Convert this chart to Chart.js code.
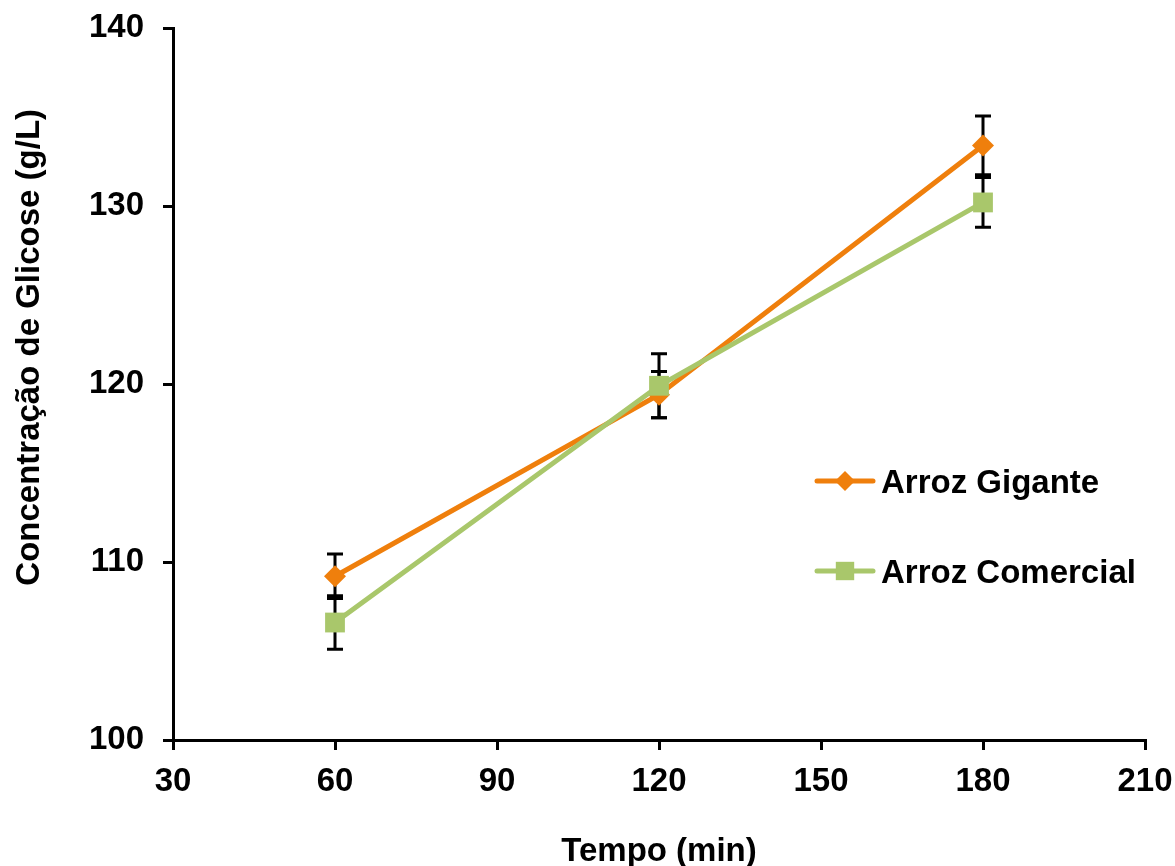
<!DOCTYPE html>
<html>
<head>
<meta charset="utf-8">
<script src="https://cdn.jsdelivr.net/npm/chart.js@4/dist/chart.umd.min.js"></script>
<style>
  html, body { margin: 0; padding: 0; background: #fff; }
  #wrap { position: relative; width: 1175px; height: 866px; }
</style>
</head>
<body>
<div id="wrap"><canvas id="chart" width="1175" height="866"></canvas></div>
<script>
// Glucose concentration over time
const tempos = [60, 120, 180];
const gigante = [109.2, 119.4, 133.4];
const giganteErr = [1.25, 1.3, 1.65];
const comercial = [106.6, 119.9, 130.2];
const comercialErr = [1.5, 1.8, 1.4];

const xTicks = [30, 60, 90, 120, 150, 180, 210];
const yTicks = [100, 110, 120, 130, 140];

const ORANGE = '#EF7F0C';
const GREEN = '#A9C76B';
const FONT = "'Liberation Sans', Arial, sans-serif";

const toPoints = (ys) => tempos.map((x, i) => ({ x, y: ys[i] }));

// Error bars, drawn behind the lines and markers
const errorBars = {
  id: 'errorBars',
  beforeDatasetsDraw(chart) {
    const { ctx, scales: { x, y } } = chart;
    ctx.save();
    ctx.strokeStyle = '#000';
    ctx.lineWidth = 3;
    chart.data.datasets.forEach(ds => {
      ds.data.forEach((p, i) => {
        const err = ds.errors[i];
        const px = x.getPixelForValue(p.x);
        const top = y.getPixelForValue(p.y + err);
        const bot = y.getPixelForValue(p.y - err);
        ctx.beginPath();
        ctx.moveTo(px, top); ctx.lineTo(px, bot);
        ctx.moveTo(px - 8, top); ctx.lineTo(px + 8, top);
        ctx.moveTo(px - 8, bot); ctx.lineTo(px + 8, bot);
        ctx.stroke();
      });
    });
    ctx.restore();
  }
};

// Legend inside the plot, at right
const insideLegend = {
  id: 'insideLegend',
  afterDraw(chart) {
    const { ctx, chartArea } = chart;
    const x0 = chartArea.left + 644;
    const rows = [
      { ds: chart.data.datasets[0], y: chartArea.top + 453 },
      { ds: chart.data.datasets[1], y: chartArea.top + 543 }
    ];
    ctx.save();
    rows.forEach(({ ds, y }) => {
      ctx.strokeStyle = ds.borderColor;
      ctx.lineWidth = 5;
      ctx.lineCap = 'round';
      ctx.beginPath();
      ctx.moveTo(x0, y); ctx.lineTo(x0 + 56, y);
      ctx.stroke();
      ctx.fillStyle = ds.pointBackgroundColor;
      Chart.helpers.drawPoint(ctx, {
        pointStyle: ds.pointStyle,
        radius: ds.legendRadius,
        borderWidth: 0
      }, x0 + 28, y);
      ctx.fillStyle = '#000';
      ctx.font = `bold 33px ${FONT}`;
      ctx.textBaseline = 'middle';
      ctx.fillText(ds.label, x0 + 64, y + 3);
    });
    ctx.restore();
  }
};

const axisCommon = {
  border: { display: true, color: '#000', width: 3 },
  grid: {
    display: true,
    drawOnChartArea: false,
    drawTicks: true,
    tickLength: 10,
    tickColor: '#000',
    lineWidth: 3
  }
};

new Chart(document.getElementById('chart'), {
  type: 'line',
  data: {
    datasets: [
      {
        label: 'Arroz Gigante',
        data: toPoints(gigante),
        errors: giganteErr,
        borderColor: ORANGE,
        backgroundColor: ORANGE,
        pointBackgroundColor: ORANGE,
        pointBorderColor: ORANGE,
        pointStyle: 'rectRot',
        pointRadius: 11,
        legendRadius: 10,
        pointBorderWidth: 0,
        borderWidth: 5,
        tension: 0,
        order: 2
      },
      {
        label: 'Arroz Comercial',
        data: toPoints(comercial),
        errors: comercialErr,
        borderColor: GREEN,
        backgroundColor: GREEN,
        pointBackgroundColor: GREEN,
        pointBorderColor: GREEN,
        pointStyle: 'rect',
        pointRadius: 14,
        legendRadius: 13,
        pointBorderWidth: 0,
        borderWidth: 5,
        tension: 0,
        order: 1
      }
    ]
  },
  options: {
    responsive: false,
    animation: false,
    layout: { padding: { top: 28, right: 30, left: 0, bottom: 0 } },
    plugins: {
      legend: { display: false },
      tooltip: { enabled: false }
    },
    scales: {
      x: {
        ...axisCommon,
        type: 'linear',
        min: 30,
        max: 210,
        afterBuildTicks: (s) => { s.ticks = xTicks.map(v => ({ value: v })); },
        ticks: {
          color: '#000',
          padding: 12,
          font: { family: FONT, size: 33, weight: 'bold' }
        },
        title: {
          display: true,
          text: 'Tempo (min)',
          color: '#000',
          padding: { top: 0, bottom: -6 },
          font: { family: FONT, size: 33, weight: 'bold' }
        },
        afterFit: (s) => {
          s.height = 126;
          s.paddingLeft = 0;
          s.paddingRight = 0;
        }
      },
      y: {
        ...axisCommon,
        min: 100,
        max: 140,
        afterBuildTicks: (s) => { s.ticks = yTicks.map(v => ({ value: v })); },
        ticks: {
          color: '#000',
          padding: 19,
          font: { family: FONT, size: 33, weight: 'bold' }
        },
        title: {
          display: true,
          // leading spaces shift the title up as in the original
          text: '\u00A0\u00A0\u00A0\u00A0\u00A0\u00A0\u00A0\u00A0Concentração de Glicose (g/L)',
          color: '#000',
          padding: { top: 10, bottom: 0 },
          font: { family: FONT, size: 33, weight: 'bold' }
        },
        afterFit: (s) => {
          s.width = 173;
          s.paddingTop = 0;
          s.paddingBottom = 0;
        }
      }
    }
  },
  plugins: [errorBars, insideLegend]
});
</script>
</body>
</html>
